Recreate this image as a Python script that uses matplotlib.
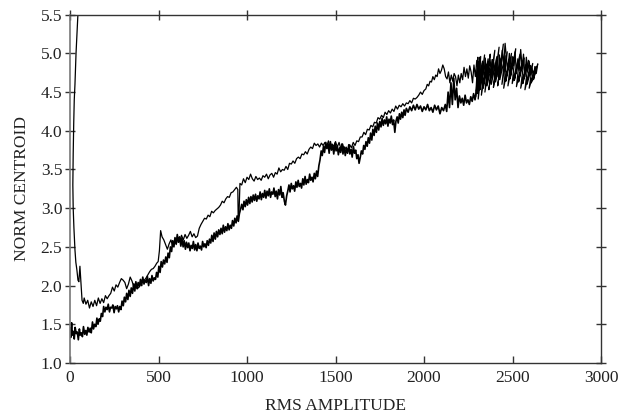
import matplotlib
matplotlib.use("Agg")
import matplotlib.pyplot as plt

plt.rcParams['font.family'] = ['Liberation Serif', 'DejaVu Serif']

# Lower branch (from start near origin out to high amplitude)
lower_x = [0, 4, 9, 13, 18, 24, 29, 35, 41, 47, 53, 58, 64, 70, 76, 83, 89, 95, 101, 108,
           114, 120, 127, 133, 139, 146, 152, 158, 165, 171, 177, 184, 190, 197, 203, 210, 216, 223, 229, 236,
           242, 249, 255, 262, 268, 275, 281, 288, 294, 301, 307, 314, 320, 327, 333, 340, 346, 353, 359, 366,
           372, 379, 385, 392, 398, 405, 411, 418, 424, 431, 437, 444, 450, 457, 463, 470, 476, 483, 489, 496,
           502, 509, 515, 522, 528, 535, 541, 548, 554, 561, 567, 574, 580, 587, 593, 600, 606, 613, 619, 626,
           632, 639, 645, 652, 658, 665, 671, 678, 684, 691, 697, 704, 710, 717, 723, 730, 736, 743, 749, 756,
           762, 769, 775, 782, 788, 795, 801, 808, 814, 821, 827, 834, 840, 847, 853, 860, 866, 873, 879, 886,
           892, 899, 905, 912, 918, 925, 931, 938, 944, 951, 957, 964, 970, 977, 983, 990, 996, 1003, 1009, 1016,
           1022, 1029, 1035, 1042, 1048, 1055, 1061, 1068, 1074, 1081, 1087, 1094, 1100, 1107, 1113, 1120, 1126, 1133, 1139, 1146,
           1152, 1159, 1165, 1172, 1178, 1185, 1191, 1198, 1204, 1211, 1217, 1224, 1230, 1237, 1243, 1250, 1256, 1263, 1269, 1276,
           1282, 1289, 1295, 1302, 1308, 1315, 1321, 1328, 1334, 1341, 1347, 1354, 1360, 1367, 1373, 1380, 1386, 1393, 1399, 1406,
           1412, 1419, 1425, 1432, 1438, 1445, 1451, 1458, 1464, 1471, 1477, 1484, 1490, 1497, 1503, 1510, 1516, 1523, 1529, 1536,
           1542, 1549, 1555, 1562, 1568, 1575, 1581, 1588, 1594, 1601, 1607, 1614, 1620, 1627, 1633, 1640, 1646, 1653, 1659, 1666,
           1672, 1679, 1685, 1692, 1698, 1705, 1711, 1718, 1724, 1731, 1737, 1744, 1750, 1757, 1763, 1770, 1776, 1783, 1789, 1796,
           1802, 1809, 1815, 1822, 1828, 1835, 1841, 1848, 1854, 1861, 1867, 1874, 1880, 1887, 1893, 1900, 1910, 1920, 1930, 1940,
           1950, 1960, 1970, 1980, 1990, 2000, 2010, 2020, 2030, 2040, 2050, 2060, 2070, 2080, 2090, 2100, 2110, 2120, 2128, 2136,
           2144, 2152, 2160, 2168, 2176, 2184, 2192, 2200, 2208, 2216, 2224, 2232, 2240, 2248, 2256, 2264, 2272, 2280, 2288, 2296]
lower_y = [1.45, 1.33, 1.52, 1.36, 1.41, 1.31, 1.46, 1.38, 1.40, 1.30, 1.44, 1.36, 1.39, 1.34, 1.47, 1.37, 1.42, 1.36, 1.46, 1.40,
           1.45, 1.39, 1.53, 1.44, 1.50, 1.47, 1.58, 1.50, 1.57, 1.54, 1.64, 1.60, 1.73, 1.66, 1.72, 1.69, 1.76, 1.66, 1.72, 1.71,
           1.75, 1.65, 1.73, 1.70, 1.74, 1.66, 1.73, 1.69, 1.80, 1.74, 1.85, 1.79, 1.90, 1.82, 1.94, 1.86, 1.97, 1.90, 2.02, 1.93,
           2.05, 1.96, 2.04, 1.99, 2.08, 2.00, 2.11, 2.02, 2.07, 2.04, 2.12, 2.00, 2.09, 2.03, 2.13, 2.06, 2.10, 2.08, 2.17, 2.11,
           2.25, 2.17, 2.31, 2.24, 2.33, 2.28, 2.37, 2.30, 2.42, 2.36, 2.50, 2.44, 2.58, 2.50, 2.62, 2.55, 2.66, 2.56, 2.63, 2.51,
           2.61, 2.50, 2.58, 2.47, 2.56, 2.49, 2.55, 2.45, 2.52, 2.48, 2.57, 2.46, 2.53, 2.45, 2.55, 2.48, 2.51, 2.46, 2.57, 2.50,
           2.54, 2.49, 2.58, 2.52, 2.60, 2.55, 2.65, 2.57, 2.68, 2.60, 2.70, 2.63, 2.72, 2.66, 2.74, 2.67, 2.78, 2.69, 2.76, 2.71,
           2.80, 2.72, 2.78, 2.74, 2.84, 2.77, 2.87, 2.81, 2.90, 2.83, 2.93, 2.99, 3.05, 2.98, 3.09, 3.02, 3.11, 3.04, 3.14, 3.06,
           3.15, 3.08, 3.17, 3.10, 3.18, 3.09, 3.16, 3.12, 3.21, 3.11, 3.19, 3.14, 3.23, 3.13, 3.22, 3.16, 3.25, 3.14, 3.21, 3.18,
           3.26, 3.15, 3.22, 3.12, 3.24, 3.17, 3.28, 3.14, 3.20, 3.09, 3.04, 3.16, 3.22, 3.30, 3.21, 3.32, 3.25, 3.29, 3.22, 3.34,
           3.27, 3.36, 3.28, 3.32, 3.26, 3.38, 3.30, 3.41, 3.31, 3.37, 3.33, 3.44, 3.36, 3.40, 3.34, 3.45, 3.38, 3.48, 3.41, 3.55,
           3.62, 3.74, 3.68, 3.80, 3.72, 3.85, 3.77, 3.83, 3.71, 3.86, 3.75, 3.81, 3.70, 3.84, 3.74, 3.80, 3.69, 3.78, 3.72, 3.83,
           3.70, 3.79, 3.68, 3.77, 3.71, 3.82, 3.70, 3.76, 3.66, 3.80, 3.71, 3.75, 3.64, 3.69, 3.58, 3.66, 3.74, 3.70, 3.81, 3.76,
           3.86, 3.80, 3.91, 3.84, 3.97, 3.88, 4.02, 3.94, 4.06, 3.98, 4.10, 4.01, 4.12, 4.05, 4.16, 4.07, 4.14, 4.09, 4.18, 4.06,
           4.15, 4.10, 4.19, 4.08, 4.14, 3.98, 4.12, 4.18, 4.10, 4.22, 4.15, 4.24, 4.17, 4.27, 4.20, 4.29, 4.24, 4.31, 4.26, 4.33,
           4.27, 4.34, 4.28, 4.32, 4.25, 4.31, 4.27, 4.34, 4.26, 4.30, 4.24, 4.33, 4.27, 4.32, 4.22, 4.30, 4.26, 4.34, 4.25, 4.50,
           4.30, 4.62, 4.34, 4.68, 4.40, 4.55, 4.30, 4.45, 4.36, 4.42, 4.33, 4.46, 4.36, 4.40, 4.34, 4.44, 4.38, 4.48, 4.40, 4.52]

# Back-and-forth excursions in the high-amplitude cluster
band_x = [2296, 2304, 2292, 2312, 2300, 2320, 2306, 2330, 2316, 2342, 2324, 2352, 2334, 2362, 2344, 2374, 2356, 2388, 2366, 2400,
          2380, 2412, 2392, 2424, 2404, 2436, 2416, 2448, 2428, 2458, 2440, 2470, 2450, 2482, 2462, 2494, 2474, 2506, 2486, 2518,
          2498, 2530, 2510, 2542, 2522, 2554, 2534, 2566, 2546, 2578, 2558, 2590, 2570, 2602, 2582, 2614, 2594, 2626, 2606, 2634,
          2618, 2642]
band_y = [4.52, 4.95, 4.44, 4.90, 4.48, 4.96, 4.41, 4.88, 4.53, 4.98, 4.46, 4.86, 4.55, 4.93, 4.50, 4.99, 4.58, 4.92, 4.53, 5.04,
          4.60, 4.96, 4.56, 5.08, 4.63, 4.94, 4.58, 5.12, 4.66, 4.97, 4.60, 5.02, 4.55, 4.93, 4.64, 5.00, 4.58, 4.95, 4.67, 5.06,
          4.61, 4.90, 4.65, 4.99, 4.57, 4.88, 4.63, 4.94, 4.55, 4.86, 4.61, 4.91, 4.53, 4.84, 4.60, 4.87, 4.55, 4.80, 4.62, 4.83,
          4.66, 4.86]

# Upper branch (returning from high amplitude back to the spike near zero)
upper_x = [2642, 2634, 2626, 2618, 2610, 2602, 2594, 2586, 2578, 2570, 2562, 2554, 2546, 2538, 2530, 2522, 2514, 2506, 2498, 2490,
           2482, 2474, 2466, 2458, 2450, 2442, 2434, 2426, 2418, 2410, 2402, 2394, 2386, 2378, 2370, 2362, 2354, 2346, 2338, 2330,
           2322, 2314, 2306, 2298, 2290, 2282, 2274, 2266, 2258, 2250, 2242, 2234, 2226, 2218, 2210, 2202, 2194, 2186, 2178, 2170,
           2162, 2154, 2146, 2138, 2130, 2122, 2114, 2106, 2098, 2090, 2082, 2074, 2066, 2058, 2050, 2042, 2034, 2026, 2018, 2010,
           2000, 1990, 1980, 1970, 1960, 1950, 1940, 1930, 1920, 1910, 1900, 1890, 1880, 1870, 1860, 1850, 1840, 1830, 1820, 1810,
           1800, 1790, 1780, 1770, 1760, 1750, 1740, 1730, 1720, 1710, 1700, 1690, 1680, 1670, 1660, 1650, 1640, 1630, 1620, 1610,
           1600, 1590, 1580, 1570, 1560, 1550, 1540, 1530, 1520, 1510, 1500, 1490, 1480, 1470, 1460, 1450, 1440, 1430, 1420, 1410,
           1400, 1390, 1380, 1370, 1360, 1350, 1340, 1330, 1320, 1310, 1300, 1290, 1280, 1270, 1260, 1250, 1240, 1230, 1220, 1210,
           1200, 1190, 1180, 1170, 1160, 1150, 1140, 1130, 1120, 1110, 1100, 1090, 1080, 1070, 1060, 1050, 1040, 1030, 1020, 1010,
           1000, 990, 980, 970, 960, 955, 950, 948, 940, 930, 920, 910, 900, 890, 880, 870, 860, 850, 840, 830,
           820, 810, 800, 790, 780, 770, 760, 750, 740, 730, 720, 710, 700, 690, 680, 670, 660, 650, 640, 630,
           620, 610, 600, 590, 580, 570, 560, 550, 540, 530, 520, 512, 505, 498, 490, 480, 470, 460, 450, 440,
           430, 420, 410, 400, 390, 380, 370, 360, 350, 340, 330, 320, 310, 300, 290, 280, 270, 260, 250, 240,
           230, 220, 210, 200, 190, 180, 170, 160, 150, 140, 130, 120, 110, 100, 90, 80, 75, 68, 62, 56,
           50, 45, 39, 33, 28, 22, 18, 16, 18, 21, 24, 28, 34, 40, 45]
upper_y = [4.86, 4.74, 4.83, 4.68, 4.81, 4.72, 4.90, 4.76, 4.95, 4.70, 4.99, 4.82, 5.05, 4.78, 4.93, 4.74, 5.02, 4.84, 4.96, 4.72,
           5.00, 4.80, 4.92, 5.13, 4.86, 5.04, 4.76, 4.98, 4.70, 4.94, 4.78, 4.88, 4.68, 4.92, 4.75, 4.86, 4.64, 4.94, 4.72, 4.90,
           4.66, 4.95, 4.76, 4.91, 4.70, 4.85, 4.62, 4.76, 4.84, 4.68, 4.80, 4.70, 4.82, 4.66, 4.74, 4.62, 4.72, 4.58, 4.70, 4.74,
           4.64, 4.72, 4.62, 4.76, 4.67, 4.70, 4.80, 4.85, 4.78, 4.74, 4.80, 4.70, 4.72, 4.66, 4.70, 4.63, 4.64, 4.58, 4.60, 4.54,
           4.52, 4.47, 4.50, 4.46, 4.43, 4.41, 4.42, 4.36, 4.39, 4.35, 4.36, 4.32, 4.35, 4.31, 4.33, 4.28, 4.32, 4.25, 4.28, 4.23,
           4.26, 4.21, 4.24, 4.17, 4.20, 4.15, 4.17, 4.10, 4.11, 4.05, 4.07, 4.01, 4.02, 3.95, 3.98, 3.92, 3.92, 3.86, 3.87, 3.81,
           3.85, 3.78, 3.82, 3.74, 3.79, 3.75, 3.83, 3.77, 3.85, 3.79, 3.86, 3.80, 3.83, 3.78, 3.87, 3.80, 3.85, 3.81, 3.84, 3.79,
           3.83, 3.81, 3.84, 3.77, 3.79, 3.76, 3.70, 3.73, 3.69, 3.70, 3.64, 3.66, 3.64, 3.58, 3.61, 3.57, 3.58, 3.50, 3.54, 3.49,
           3.50, 3.47, 3.52, 3.44, 3.46, 3.40, 3.45, 3.43, 3.38, 3.44, 3.40, 3.42, 3.36, 3.39, 3.37, 3.41, 3.35, 3.38, 3.44, 3.37,
           3.40, 3.33, 3.38, 3.30, 3.32, 2.95, 2.88, 3.24, 3.27, 3.24, 3.21, 3.20, 3.14, 3.15, 3.12, 3.07, 3.09, 3.04, 3.01, 2.99,
           2.97, 2.94, 2.96, 2.89, 2.91, 2.86, 2.87, 2.83, 2.79, 2.74, 2.64, 2.62, 2.67, 2.63, 2.70, 2.65, 2.61, 2.66, 2.59, 2.65,
           2.57, 2.62, 2.53, 2.58, 2.51, 2.59, 2.54, 2.47, 2.53, 2.59, 2.63, 2.71, 2.45, 2.31, 2.29, 2.25, 2.22, 2.21, 2.18, 2.14,
           2.10, 2.07, 2.08, 2.02, 1.98, 1.96, 2.03, 1.99, 2.06, 2.11, 2.02, 1.96, 2.04, 2.07, 2.09, 2.04, 1.98, 2.01, 1.93, 1.98,
           1.90, 1.87, 1.83, 1.87, 1.78, 1.83, 1.77, 1.84, 1.74, 1.81, 1.73, 1.79, 1.71, 1.81, 1.76, 1.84, 1.77, 1.81, 2.03, 2.25,
           2.05, 2.07, 2.20, 2.30, 2.46, 2.75, 3.00, 3.30, 3.70, 4.10, 4.40, 4.60, 5.00, 5.30, 5.52]

xticks = [0, 500, 1000, 1500, 2000, 2500, 3000]
yticks = [1.0, 1.5, 2.0, 2.5, 3.0, 3.5, 4.0, 4.5, 5.0, 5.5]

fig = plt.figure(figsize=(6.19, 4.17), dpi=100)
ax = fig.add_axes([0.1131, 0.1295, 0.8579, 0.8353])

ax.plot(lower_x, lower_y, color='black', lw=1.2)
ax.plot(band_x, band_y, color='black', lw=0.9)
ax.plot(upper_x, upper_y, color='black', lw=0.9)

ax.set_xlim(0, 3000)
ax.set_ylim(1.0, 5.5)
ax.set_xticks(xticks)
ax.set_yticks(yticks)
ax.set_yticklabels([f"{v:.1f}" for v in yticks])
ax.set_xticklabels([str(v) for v in xticks])

for s in ['top', 'right', 'bottom']:
    ax.spines[s].set_color('#333333')
    ax.spines[s].set_linewidth(1.0)
ax.spines['left'].set_color('#777777')
ax.spines['left'].set_linewidth(1.2)

ax.tick_params(axis='y', which='both', direction='inout', length=7, width=1,
               right=True, left=True, color='#333333', labelsize=12.5, labelcolor='#222222', pad=2)
ax.tick_params(axis='x', which='both', direction='in', length=5, width=1,
               bottom=True, top=False, color='#333333', labelsize=12.5, labelcolor='#222222', pad=5)
axt = ax.secondary_xaxis('top')
axt.set_xticks(xticks)
axt.set_xticklabels([])
axt.tick_params(direction='inout', length=7, width=1, color='#333333')
axt.spines['top'].set_visible(False)

ax.set_xlabel('RMS AMPLITUDE', fontsize=12.5, color='#222222', labelpad=9)
ax.set_ylabel('NORM CENTROID', fontsize=12.5, color='#222222', labelpad=8)

fig.savefig('out.png', dpi=100)
